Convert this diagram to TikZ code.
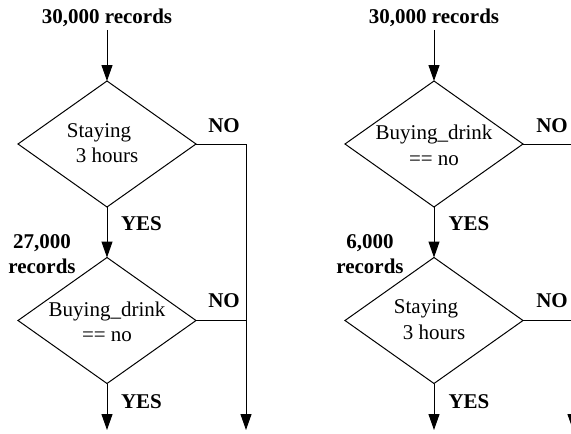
\documentclass[tikz,border=0pt]{standalone}
\usepackage{fontspec}
\setmainfont{Liberation Serif}
\usetikzlibrary{shapes.geometric,arrows.meta}
\begin{document}
\begin{tikzpicture}[x=1pt,y=-1pt,
  dia/.style={diamond,draw,line width=1pt,minimum width=178pt,minimum height=126pt,inner sep=0pt,outer sep=0pt},
  txt/.style={font=\fontsize{21}{25.5}\selectfont,align=center,inner sep=0pt},
  lbl/.style={font=\fontsize{21}{25}\selectfont\bfseries,inner sep=0pt},
  inlbl/.style={font=\fontsize{21}{25}\selectfont\bfseries,inner sep=3.5pt},
  conn/.style={line width=1pt,-{Triangle[length=16pt,width=11pt]}},
  plain/.style={line width=1pt}]
\useasboundingbox (0,0) rectangle (571,434);
\clip (0,0) rectangle (571,434);
% ---------- left flow ----------
\node[inlbl,anchor=base] (in1) at (107,23) {30,000 records};
\node[dia] (d1) at (107,144) {};
\node[txt] (t1) at (107,143) {\hbox{Staying\kern16pt}\\3 hours};
\node[dia] (d2) at (107,320.5) {};
\node[txt] (t2) at (107,322) {Buying\_drink\\== no};
\node[lbl,align=center] (r1) at (42,254.4) {27,000\\records};
\node[lbl,anchor=base] (no1) at (224,132) {NO};
\node[lbl,anchor=base] (no2) at (224,307) {NO};
\node[lbl,anchor=base] (yes1) at (141.5,230) {YES};
\node[lbl,anchor=base] (yes2) at (141.5,408) {YES};
\coordinate (end1) at (246,430);
\coordinate (out1) at (107,430);
\draw[conn] (in1.south) -- (d1.north);
\draw[conn] (d1.south) -- (d2.north);
\draw[conn] (d2.south) -- (out1);
\draw[conn] (d1.east) -| (end1);
\draw[plain] (d2.east) -- (d2.east -| end1);
% ---------- right flow ----------
\node[inlbl,anchor=base] (in2) at (434,23) {30,000 records};
\node[dia] (d3) at (434,144) {};
\node[txt] (t3) at (434,145.5) {Buying\_drink\\== no};
\node[dia] (d4) at (434,320.5) {};
\node[txt] (t4) at (434,319.5) {\hbox{Staying\kern16pt}\\3 hours};
\node[lbl,align=center] (r2) at (370,254.4) {6,000\\records};
\node[lbl,anchor=base] (no3) at (552,132) {NO};
\node[lbl,anchor=base] (no4) at (552,307) {NO};
\node[lbl,anchor=base] (yes3) at (469,230) {YES};
\node[lbl,anchor=base] (yes4) at (469,408) {YES};
\coordinate (end2) at (573,430);
\coordinate (out2) at (434,430);
\draw[conn] (in2.south) -- (d3.north);
\draw[conn] (d3.south) -- (d4.north);
\draw[conn] (d4.south) -- (out2);
\draw[conn] (d3.east) -| (end2);
\draw[plain] (d4.east) -- (d4.east -| end2);
\end{tikzpicture}
\end{document}
